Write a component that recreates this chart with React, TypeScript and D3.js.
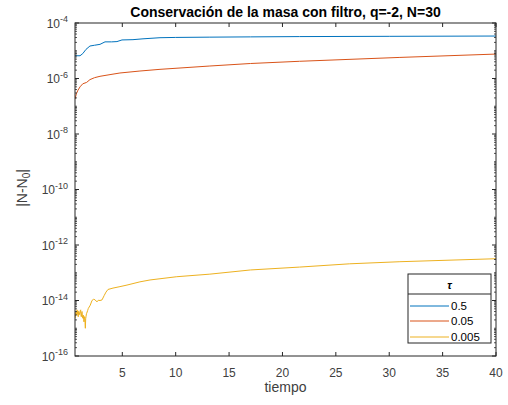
import React from "react";
import * as d3 from "d3";

// Mass-conservation error |N - N0| over time for three filter step sizes τ
const tau05T = [0.57, 1.04, 1.3, 1.6, 1.97, 2.4, 2.91, 3.38, 4.0, 4.5, 4.97, 6.0, 6.94, 8.53, 10, 13.2, 17, 21.6, 30, 40];
const tau05V = [6.6e-6, 6.6e-6, 7.9e-6, 1.12e-5, 1.48e-5, 1.58e-5, 1.7e-5, 2.09e-5, 2.09e-5, 2.14e-5, 2.45e-5, 2.51e-5, 2.69e-5, 2.95e-5, 3.02e-5, 3.09e-5, 3.16e-5, 3.24e-5, 3.31e-5, 3.39e-5];

const tau005T = [0.57, 0.7, 0.85, 1.04, 1.3, 1.66, 1.97, 2.4, 2.91, 3.85, 4.78, 6.65, 8.53, 13.2, 17, 21.6, 31, 40];
const tau005V = [1.82e-7, 2.82e-7, 3.8e-7, 5.0e-7, 6.46e-7, 7.24e-7, 9.1e-7, 1.07e-6, 1.2e-6, 1.38e-6, 1.58e-6, 1.86e-6, 2.14e-6, 2.82e-6, 3.47e-6, 4.17e-6, 5.75e-6, 7.59e-6];

const tau0005T = [
  0.57, 0.62, 0.66, 0.7, 0.73, 0.76, 0.79, 0.83, 0.88, 0.91, 0.94, 0.98, 1.01, 1.04, 1.07, 1.1, 1.13, 1.16,
  1.2, 1.23, 1.26, 1.29, 1.32, 1.35, 1.38, 1.41, 1.45, 1.48, 1.51, 1.54, 1.57, 1.6, 1.64, 1.67, 1.75, 1.82,
  2.0, 2.16, 2.3, 2.44, 2.55, 2.63, 2.75, 2.91, 3.1, 3.3, 3.47, 3.66, 4.13, 4.78, 5.44, 6.65, 7.6, 10.1,
  13.2, 17, 21.6, 26.3, 31, 40,
];
const tau0005V = [
  2.3e-15, 3.2e-15, 4.0e-15, 3.0e-15, 3.4e-15, 4.6e-15, 4.3e-15, 2.9e-15, 2.6e-15, 4.1e-15, 4.0e-15, 3.1e-15,
  3.5e-15, 3.5e-15, 4.4e-15, 4.6e-15, 3.0e-15, 2.6e-15, 3.6e-15, 4.0e-15, 2.8e-15, 2.3e-15, 2.9e-15, 3.0e-15,
  2.1e-15, 1.7e-15, 2.6e-15, 2.6e-15, 1.6e-15, 1.0e-15, 2.2e-15, 2.6e-15, 3.3e-15, 3.5e-15, 4.3e-15, 5.2e-15,
  6.8e-15, 1.0e-14, 1.1e-14, 1.07e-14, 9.5e-15, 8.9e-15, 1.02e-14, 1.0e-14, 1.05e-14, 1.5e-14, 2.0e-14, 2.5e-14,
  2.8e-14, 3.16e-14, 3.6e-14, 4.7e-14, 5.5e-14, 7.2e-14, 8.9e-14, 1.26e-13, 1.6e-13, 2.1e-13, 2.5e-13, 3.2e-13,
];

const seriesNames = ["0.5", "0.05", "0.005"];
const seriesColors = ["#0072BD", "#D95319", "#EDB120"];
const seriesT = [tau05T, tau005T, tau0005T];
const seriesV = [tau05V, tau005V, tau0005V];

const xTicks = [5, 10, 15, 20, 25, 30, 35, 40];
const yTickExps = [-4, -6, -8, -10, -12, -14, -16];

const W = 508;
const H = 405;
const left = 75;
const right = 496;
const top = 23;
const bottom = 356;
const axisColor = "#262626";
const labelColor = "#404040";
const font = "'Liberation Sans', Arial, Helvetica, sans-serif";

export default function App() {
  const x = d3.scaleLinear().domain([0.57, 40]).range([left, right]);
  const y = d3.scaleLog().domain([1e-16, 1e-4]).range([bottom, top]);

  const line = d3
    .line<[number, number]>()
    .x((d) => x(d[0]))
    .y((d) => y(d[1]));

  // minor ticks on the log axis: every k·10^n not carrying a label
  const minor: number[] = [];
  for (let e = -16; e < -4; e++) {
    for (let k = 1; k <= 9; k++) {
      if (k === 1 && e % 2 === 0) continue;
      minor.push(k * Math.pow(10, e));
    }
  }

  const legX = 408;
  const legY = 274;
  const legW = 83;
  const legH = 69;
  const rowY = [306, 321, 337];

  return (
    <svg
      width={W}
      height={H}
      style={{ position: "absolute", left: 0, top: 0, background: "#fff" }}
      fontFamily={font}
    >
      <rect width={W} height={H} fill="#fff" />
      <defs>
        <clipPath id="plot">
          <rect x={left} y={top} width={right - left} height={bottom - top} />
        </clipPath>
      </defs>

      {/* data */}
      <g clipPath="url(#plot)">
        {seriesT.map((ts, i) => (
          <path
            key={i}
            d={line(ts.map((t, j) => [t, seriesV[i][j]] as [number, number])) || ""}
            fill="none"
            stroke={seriesColors[i]}
            strokeWidth={1}
          />
        ))}
      </g>

      {/* box */}
      <rect x={left} y={top} width={right - left} height={bottom - top} fill="none" stroke={axisColor} strokeWidth={1} />

      {/* x ticks */}
      {xTicks.map((t) => (
        <g key={t}>
          <line x1={x(t)} x2={x(t)} y1={bottom} y2={bottom - 4} stroke={axisColor} />
          <line x1={x(t)} x2={x(t)} y1={top} y2={top + 4} stroke={axisColor} />
          <text x={x(t)} y={377} textAnchor="middle" fontSize={12} fill={labelColor}>
            {t}
          </text>
        </g>
      ))}

      {/* y ticks */}
      {yTickExps.map((e) => {
        const yy = y(Math.pow(10, e));
        return (
          <g key={e}>
            <line x1={left} x2={left + 4} y1={yy} y2={yy} stroke={axisColor} />
            <line x1={right} x2={right - 4} y1={yy} y2={yy} stroke={axisColor} />
            <text x={68} y={yy + 4.5} textAnchor="end" fontSize={12} fill={labelColor}>
              10
              <tspan fontSize={9} dy={-5.5}>
                {String(e)}
              </tspan>
            </text>
          </g>
        );
      })}
      {minor.map((v, i) => {
        const yy = y(v);
        return (
          <g key={i}>
            <line x1={left} x2={left + 2} y1={yy} y2={yy} stroke={axisColor} strokeWidth={0.8} />
            <line x1={right} x2={right - 2} y1={yy} y2={yy} stroke={axisColor} strokeWidth={0.8} />
          </g>
        );
      })}

      {/* title and axis labels */}
      <text x={(left + right) / 2} y={17} textAnchor="middle" fontSize={14} fontWeight="bold" fill="#000">
        Conservación de la masa con filtro, q=-2, N=30
      </text>
      <text x={(left + right) / 2} y={392} textAnchor="middle" fontSize={14} fill={labelColor}>
        tiempo
      </text>
      <text transform="translate(27,188) rotate(-90)" textAnchor="middle" fontSize={14} fill={labelColor}>
        |N-N
        <tspan fontSize={10} dy={3}>
          0
        </tspan>
        <tspan dy={-3}>|</tspan>
      </text>

      {/* legend */}
      <rect x={legX} y={legY} width={legW} height={legH} fill="#fff" stroke={axisColor} strokeWidth={1} />
      <line x1={legX} x2={legX + legW} y1={294} y2={294} stroke={axisColor} strokeWidth={1} />
      <text x={legX + legW / 2} y={289} textAnchor="middle" fontSize={11} fontWeight="bold" fontStyle="italic" fill="#000">
        τ
      </text>
      {seriesNames.map((n, i) => (
        <g key={n}>
          <line x1={410} x2={449} y1={rowY[i]} y2={rowY[i]} stroke={seriesColors[i]} strokeWidth={1} />
          <text x={451} y={rowY[i] + 4} fontSize={11.5} fill="#000">
            {n}
          </text>
        </g>
      ))}
    </svg>
  );
}
